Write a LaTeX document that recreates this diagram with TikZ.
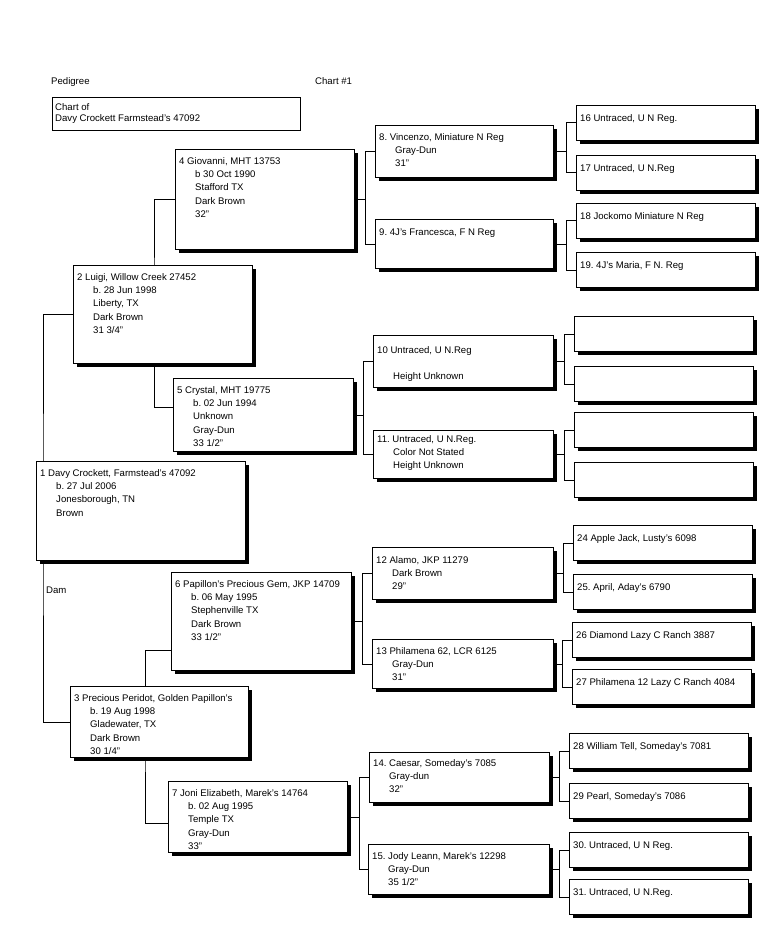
\documentclass[tikz,border=0pt]{standalone}
\usepackage{fontspec}
\setmainfont{Liberation Sans}
\usetikzlibrary{positioning,shadows,backgrounds}
\newcommand{\ind}{\hspace*{16pt}}
\frenchspacing

\begin{document}
\begin{tikzpicture}[x=1pt, y=-1pt, font=\fontsize{9.6}{13.3}\selectfont,
  box/.style={draw, fill=white, line width=0.8pt, anchor=north west, inner sep=0pt,
    drop shadow={shadow xshift=4pt, shadow yshift=-4pt, fill=black, opacity=1}},
  info/.style={anchor=north west, align=left, inner sep=0pt},
  link/.style={line width=0.8pt}]
  \useasboundingbox (0,0) rectangle (773,941);
  % Heading
  \node[info] (pedigree) at (51,77) {Pedigree};
  \node[info] (chartno) at (315,77) {Chart \#1};
  \node[draw, line width=0.8pt, anchor=north west, inner sep=0pt,
    minimum width=248pt, minimum height=33pt] (chartof) at (52,97) {};
  \node[info, below right=6pt and 3pt of chartof.north west] (chartoft)
    {Chart of\\[-2pt]Davy Crockett  Farmstead's 47092};
  \node[info] (dam) at (46,587) {Dam};
  % Boxes, generations 1 to 4
  \foreach \n/\x/\y/\w/\h in {1/36/461/209/99, 2/73/265/179/98, 3/70/686/178/71,
      4/175/149/179/100, 5/173/378/180/73, 6/171/572/180/98, 7/168/781/179/71,
      8/375/125/178/52, 9/375/219/178/49, 10/373/335/180/52, 11/373/430/180/48,
      12/372/547/181/52, 13/372/639/181/49, 14/369/752/180/50, 15/368/844/181/50}
    \node[box, minimum width=\w pt, minimum height=\h pt] (p\n) at (\x,\y) {};
  % Boxes, generation 5
  \foreach \n/\x/\y in {16/576/105, 17/576/155, 18/576/203, 19/576/252,
      20/574/316, 21/574/366, 22/574/412, 23/574/462,
      24/573/525, 25/573/574, 26/572/622, 27/572/669,
      28/569/733, 29/569/783, 30/569/832, 31/569/879}
    \node[box, minimum width=179pt, minimum height=35pt] (p\n) at (\x,\y) {};
  % Texts
  \node[info, below right=8pt and 4pt of p1.north west] (t1)
    {1  Davy Crockett, Farmstead's 47092\\\ind b. 27 Jul 2006\\\ind Jonesborough, TN\\\ind Brown};
  \node[info, below right=8pt and 4pt of p2.north west] (t2)
    {2  Luigi, Willow Creek 27452\\\ind b. 28 Jun 1998\\\ind Liberty, TX\\\ind Dark Brown\\\ind 31 3/4"};
  \node[info, below right=8pt and 4pt of p3.north west] (t3)
    {3  Precious Peridot, Golden Papillon's\\\ind b. 19 Aug 1998\\\ind Gladewater, TX\\\ind Dark Brown\\\ind 30 1/4"};
  \node[info, below right=8pt and 4pt of p4.north west] (t4)
    {4  Giovanni, MHT 13753\\\ind b  30 Oct 1990\\\ind Stafford TX\\\ind Dark Brown\\\ind 32"};
  \node[info, below right=8pt and 4pt of p5.north west] (t5)
    {5  Crystal, MHT 19775\\\ind b. 02 Jun 1994\\\ind Unknown\\\ind Gray-Dun\\\ind 33 1/2"};
  \node[info, below right=8pt and 4pt of p6.north west] (t6)
    {6  Papillon's Precious Gem, JKP 14709\\\ind b. 06 May 1995\\\ind Stephenville  TX\\\ind Dark Brown\\\ind 33 1/2"};
  \node[info, below right=8pt and 4pt of p7.north west] (t7)
    {7  Joni Elizabeth, Marek's 14764\\\ind b. 02 Aug 1995\\\ind Temple  TX\\\ind Gray-Dun\\\ind 33"};
  \node[info, below right=8pt and 4pt of p8.north west] (t8)
    {8. Vincenzo, Miniature N  Reg\\\ind Gray-Dun\\\ind 31"};
  \node[info, below right=10pt and 4pt of p9.north west] (t9)
    {9. 4J's Francesca, F N  Reg};
  \node[info, below right=11pt and 4pt of p10.north west] (t10)
    {10  Untraced, U N.Reg\\[13.3pt]\ind Height Unknown};
  \node[info, below right=5pt and 4pt of p11.north west] (t11)
    {11. Untraced, U N.Reg.\\\ind Color Not Stated\\\ind Height Unknown};
  \node[info, below right=9pt and 4pt of p12.north west] (t12)
    {12  Alamo, JKP 11279\\\ind Dark Brown\\\ind 29"};
  \node[info, below right=8pt and 4pt of p13.north west] (t13)
    {13  Philamena 62, LCR 6125\\\ind Gray-Dun\\\ind 31"};
  \node[info, below right=7pt and 4pt of p14.north west] (t14)
    {14. Caesar, Someday's 7085\\\ind Gray-dun\\\ind 32"};
  \node[info, below right=8pt and 4pt of p15.north west] (t15)
    {15. Jody Leann, Marek's 12298\\\ind Gray-Dun\\\ind 35 1/2"};
  \foreach \n/\txt in {16/{16  Untraced, U N Reg.}, 17/{17  Untraced, U N.Reg},
      18/{18  Jockomo  Miniature N  Reg}, 19/{19. 4J's Maria, F N. Reg},
      24/{24  Apple Jack, Lusty's 6098}, 25/{25. April, Aday's 6790},
      26/{26  Diamond  Lazy C Ranch 3887}, 27/{27  Philamena 12  Lazy C Ranch 4084},
      28/{28  William Tell, Someday's 7081}, 29/{29  Pearl, Someday's 7086},
      30/{30. Untraced, U N Reg.}, 31/{31. Untraced, U N.Reg.}}
    \node[info, below right=9pt and 4pt of p\n.north west] (t\n) {\txt};
  % Links
  \begin{scope}[on background layer]
    \draw[link] (p2.west) -| ([xshift=7pt]p1.west) |- (p3.west);
    \draw[link] (p4.west) -| ([xshift=81pt]p2.west) |- ([yshift=7.5pt]p5.west);
    \draw[link] ([yshift=-29pt]p6.west) -| ([xshift=75pt]p3.west) |- ([yshift=-6.5pt]p7.west);
    \foreach \a/\b/\c in {4/8/9, 5/10/11, 6/12/13, 7/14/15,
        8/16/17, 9/18/19, 10/20/21, 11/22/23,
        12/24/25, 13/26/27, 14/28/29, 15/30/31} {
      \draw[link] (p\b.west) -- ++(-10,0) coordinate (k\a) |- (p\c.west);
      \draw[link] (p\a.east) -- (p\a.east -| k\a);
    }
  \end{scope}
\end{tikzpicture}
\end{document}
